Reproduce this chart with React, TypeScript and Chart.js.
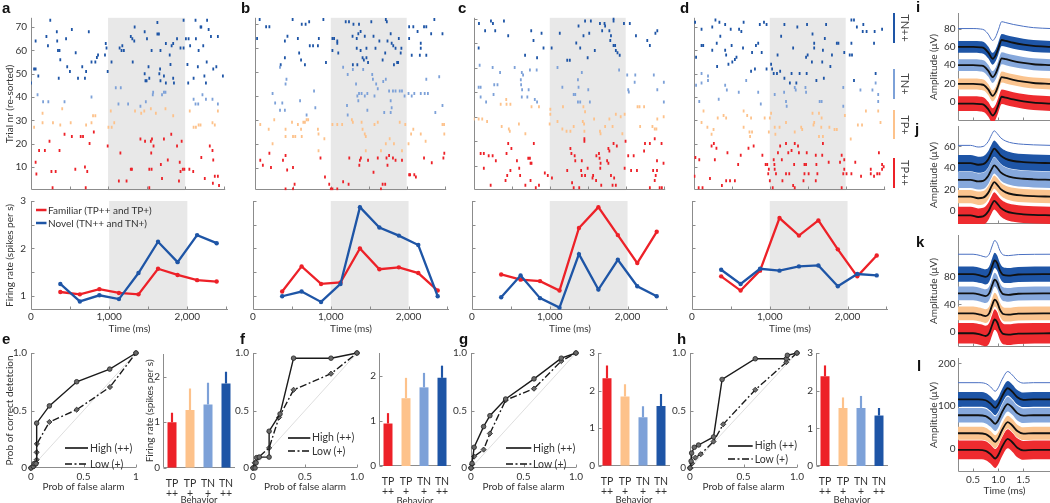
import React, { useEffect, useRef } from "react";
import { Chart, registerables } from "chart.js";

Chart.register(...registerables);

const FONT = "Lato, Roboto, 'Noto Sans', sans-serif";
const FS = 10;
const TEXT = "#333333";
const AXIS = "#8c8c8c";
const SHADE = "#e8e8e8";
const RED = "#ed2128";
const ORANGE = "#fdc28b";
const LBLUE = "#7da1d8";
const DBLUE = "#1e55a6";
const GROUP_COLORS = [RED, ORANGE, LBLUE, DBLUE];

// raster: [time ms, trial, group] group: 0 TP++, 1 TP+, 2 TN+, 3 TN++
const RASTER_A: number[][] = [
  [250,73,3],[0,46,3],[40,52,3],[60,52,3],[60,64,3],[95,49,3],[200,66,3],[220,62,3],[335,68,3],[340,64,3],[350,60,3],[370,60,3],[380,56,3],[360,48,3],[455,65,3],[470,53,3],[505,51,3],[530,69,3],[580,59,3],[610,48,3],[665,53,3],[700,48,3],[715,51,3],[750,68,3],[785,55,3],[835,55,3],[855,57,3],[870,58,3],[960,58,3],[970,63,3],[980,61,3],[995,51,3],[1045,55,3],[1150,61,3],[1175,60,3],[1205,60,3],[1185,62,3],[1295,66,3],[1315,65,3],[1340,64,3],[1345,70,3],[1320,55,3],[1475,68,3],[1475,50,3],[1485,47,3],[1500,47,3],[1505,65,3],[1525,53,3],[1535,48,3],[1565,60,3],[1640,72,3],[1640,67,3],[1660,67,3],[1665,50,3],[1675,52,3],[1680,47,3],[1680,60,3],[1725,49,3],[1750,63,3],[1750,46,3],[1800,58,3],[1810,54,3],[1825,62,3],[1845,48,3],[1845,63,3],[1855,46,3],[1895,65,3],[1940,61,3],[1980,61,3],[1980,73,3],[2010,65,3],[2045,65,3],[2030,54,3],[2040,46,3],[2065,62,3],[2110,48,3],[2135,73,3],[2140,65,3],[2165,53,3],[2175,60,3],[2200,70,3],[2210,70,3],[2235,62,3],[2250,49,3],[2270,46,3],[2280,55,3],[2285,73,3],[2305,69,3],[2335,66,3],[2365,52,3],[2405,53,3],[2425,66,3],[2490,49,3],
  [85,41,2],[157,38,2],[225,38,2],[435,38,2],[785,40,2],[1100,44,2],[1135,37,2],[1165,44,2],[1260,37,2],[1420,36,2],[1490,38,2],[1580,41,2],[1585,42,2],[1700,41,2],[1725,42,2],[1745,42,2],[2110,39,2],[2135,37,2],[2170,37,2],[2225,41,2],[2270,39,2],[2355,39,2],[2425,37,2],
  [40,27,1],[150,33,1],[150,29,1],[285,29,1],[380,28,1],[405,35,1],[515,29,1],[715,28,1],[785,29,1],[805,32,1],[835,32,1],[1005,27,1],[1035,34,1],[1047,27,1],[1080,29,1],[1350,34,1],[1430,33,1],[1470,34,1],[1555,35,1],[1620,33,1],[1745,35,1],[1845,32,1],[2060,34,1],[2110,27,1],[2140,27,1],[2175,28,1],[2200,28,1],[2355,29,1],[2425,34,1],[2385,28,1],
  [60,12,0],[70,7,0],[105,17,0],[180,17,0],[240,21,0],[265,8,0],[320,8,0],[370,17,0],[435,24,0],[530,23,0],[575,9,0],[645,23,0],[675,23,0],[700,10,0],[730,8,0],[760,20,0],[815,25,0],[995,19,0],[1160,16,0],[1295,9,0],[1310,9,0],[1420,22,0],[1480,21,0],[1555,21,0],[1570,22,0],[1560,16,0],[1590,19,0],[1535,9,0],[1565,9,0],[1685,11,0],[1725,22,0],[1775,13,0],[1820,24,0],[1895,19,0],[1930,12,0],[1940,8,0],[1955,21,0],[1970,9,0],[1990,9,0],[2055,9,0],[2105,8,0],[2210,14,0],[2320,19,0],[2355,17,0],[2365,13,0],[2385,6,0],[2425,6,0],[280,1,0],[710,1,0],[1140,4,0],[1240,4,0],[1535,1,0],[1700,5,0],[1920,4,0],[2255,5,0],[2360,3,0],[2440,2,0],
];
const RASTER_B: number[][] = [
  [30,64,3],[64,72,3],[149,69,3],[192,69,3],[498,72,3],[618,70,3],[669,70,3],[716,71,3],[903,72,3],[430,65,3],[396,63,3],[724,61,3],[767,61,3],[831,61,3],[843,64,3],[567,64,3],[584,58,3],[609,55,3],[660,53,3],[396,56,3],[341,53,3],[937,54,3],[1022,64,3],[1044,64,3],[1086,63,3],[1086,62,3],[1022,59,3],[1099,58,3],[1197,71,3],[1240,71,3],[1299,70,3],[1372,70,3],[1363,66,3],[1393,67,3],[1287,65,3],[1342,64,3],[1448,65,3],[1534,71,3],[1563,65,3],[1640,63,3],[1725,72,3],[1738,71,3],[1747,63,3],[1789,66,3],[1802,62,3],[1823,61,3],[1853,60,3],[1896,64,3],[1930,60,3],[1921,58,3],[1342,60,3],[1393,59,3],[1470,60,3],[1589,60,3],[1717,58,3],[1419,56,3],[1436,55,3],[1470,56,3],[1491,54,3],[1683,55,3],[1874,54,3],[1887,54,3],[1832,53,3],[1350,53,3],[1291,53,3],[2032,64,3],[2032,69,3],[2087,69,3],[2143,67,3],[2185,62,3],[2185,60,3],[2173,57,3],[2066,57,3],[2258,57,3],[2228,69,3],[2258,69,3],[2322,66,3],[2364,72,3],[2471,66,3],
  [234,41,2],[332,52,2],[405,45,2],[417,47,2],[268,37,2],[332,34,2],[362,37,2],[396,34,2],[596,38,2],[780,42,2],[797,35,2],[682,32,2],[1163,52,2],[1223,49,2],[1291,51,2],[1333,45,2],[1427,51,2],[1214,36,2],[1223,32,2],[1350,40,2],[1363,38,2],[1372,41,2],[1406,41,2],[1448,40,2],[1482,41,2],[1546,49,2],[1555,47,2],[1598,45,2],[1619,43,2],[1691,46,2],[1725,47,2],[1768,42,2],[1819,42,2],[1853,42,2],[1908,42,2],[1938,42,2],[1789,38,2],[1802,35,2],[1789,33,2],[1704,33,2],[1482,34,2],[1576,40,2],[1972,40,2],[2024,41,2],[2066,40,2],[2100,41,2],[2185,41,2],[2237,41,2],[2279,41,2],[2258,47,2],[2428,48,2],[2377,33,2],[2471,36,2],
  [72,28,1],[183,26,1],[234,20,1],[256,30,1],[405,26,1],[405,23,1],[490,29,1],[503,23,1],[533,23,1],[567,28,1],[609,26,1],[618,23,1],[639,29,1],[660,29,1],[682,30,1],[703,30,1],[831,26,1],[839,24,1],[839,17,1],[916,22,1],[1022,28,1],[1086,28,1],[1150,28,1],[1278,30,1],[1291,29,1],[1406,29,1],[1419,26,1],[1448,24,1],[1461,23,1],[1461,17,1],[1576,28,1],[1619,29,1],[1661,17,1],[1725,20,1],[1776,22,1],[1832,20,1],[1908,29,1],[1938,17,1],[1981,28,1],[2024,20,1],[2058,24,1],[2087,26,1],[2185,24,1],[2249,21,1],[2471,28,1],[2492,28,1],[2495,24,1],
  [72,13,0],[106,11,0],[192,16,0],[213,10,0],[371,13,0],[405,15,0],[426,9,0],[503,10,0],[524,3,0],[405,1,0],[503,1,0],[865,14,0],[924,6,0],[980,3,0],[1001,1,0],[1022,1,0],[1086,1,0],[1163,4,0],[1235,3,0],[1244,14,0],[1384,13,0],[1397,14,0],[1491,13,0],[1376,11,0],[1563,8,0],[1619,14,0],[1683,3,0],[1661,1,0],[1717,3,0],[1747,11,0],[1734,14,0],[1768,15,0],[1819,14,0],[1853,13,0],[1938,13,0],[2032,7,0],[2045,7,0],[2100,7,0],[2121,6,0],[2228,14,0],[2330,12,0],[2483,14,0],[2495,16,0],
];
const RASTER_C: number[][] = [
  [68,68,3],[149,65,3],[226,69,3],[252,68,3],[282,65,3],[397,69,3],[453,63,3],[64,58,3],[756,65,3],[786,61,3],[892,64,3],[918,58,3],[1025,58,3],[1132,64,3],[1379,67,3],[1465,69,3],[1444,63,3],[1541,69,3],[1520,64,3],[1349,60,3],[1401,58,3],[1661,68,3],[1690,65,3],[1721,68,3],[1729,67,3],[1785,65,3],[1806,63,3],[1797,61,3],[1840,59,3],[1861,59,3],[1840,70,3],[1840,69,3],[1977,68,3],[2054,68,3],[1870,57,3],[1892,56,3],[1921,55,3],[1593,57,3],[2135,63,3],[2284,61,3],[2318,59,3],[2391,64,3],[2416,65,3],[833,54,3],[675,55,3],[1499,54,3],[1230,53,3],[1264,53,3],
  [77,51,2],[64,42,2],[90,42,2],[90,38,2],[162,36,2],[248,50,2],[269,43,2],[312,43,2],[346,48,2],[260,39,2],[538,50,2],[632,48,2],[649,47,2],[619,45,2],[623,43,2],[636,41,2],[632,38,2],[722,41,2],[739,49,2],[828,49,2],[705,38,2],[803,37,2],[833,36,2],[1102,50,2],[1166,42,2],[1315,39,2],[1336,39,2],[1371,36,2],[1379,42,2],[1371,45,2],[1422,48,2],[1401,36,2],[1507,41,2],[1528,36,2],[1913,49,2],[2020,47,2],[2033,41,2],[2041,40,2],[2126,47,2],[2118,44,2],[2370,47,2],[2416,41,2],[2502,44,2],[2502,36,2],
  [0,29,1],[64,29,1],[111,29,1],[175,28,1],[367,26,1],[354,35,1],[431,35,1],[482,35,1],[427,37,1],[461,25,1],[474,24,1],[594,27,1],[679,23,1],[760,34,1],[858,34,1],[1008,33,1],[1008,31,1],[999,27,1],[1102,28,1],[1174,34,1],[1166,25,1],[1221,24,1],[1272,24,1],[1315,26,1],[1443,34,1],[1465,32,1],[1435,28,1],[1452,27,1],[1456,24,1],[1584,29,1],[1661,24,1],[1669,23,1],[1729,26,1],[1785,29,1],[1827,26,1],[1870,31,1],[1934,30,1],[1956,23,1],[1986,31,1],[2156,34,1],[2182,34,1],[2242,34,1],[2190,26,1],[2352,26,1],[2382,25,1],[2404,25,1],[2416,29,1],[2500,30,1],
  [90,15,0],[132,15,0],[132,9,0],[196,14,0],[248,14,0],[290,12,0],[222,2,0],[431,15,0],[453,19,0],[495,17,0],[482,8,0],[440,6,0],[418,4,0],[598,9,0],[610,6,0],[568,12,0],[679,2,0],[717,13,0],[739,13,0],[747,11,0],[760,11,0],[747,4,0],[790,19,0],[816,1,0],[858,2,0],[935,7,0],[974,6,0],[1029,5,0],[1230,8,0],[1272,17,0],[1285,15,0],[1315,1,0],[1328,14,0],[1336,12,0],[1294,3,0],[1388,1,0],[1413,8,0],[1422,12,0],[1456,20,0],[1456,21,0],[1422,6,0],[1465,6,0],[1499,9,0],[1571,6,0],[1563,5,0],[1614,14,0],[1610,4,0],[1648,15,0],[1656,13,0],[1669,11,0],[1665,9,0],[1678,2,0],[1755,12,0],[1772,17,0],[1785,16,0],[1772,11,0],[1806,6,0],[1827,2,0],[1840,19,0],[1883,18,0],[1870,2,0],[1848,5,0],[1986,9,0],[1998,20,0],[2033,14,0],[2071,8,0],[2105,14,0],[2148,8,0],[2242,16,0],[2254,19,0],[2318,19,0],[2382,21,0],[2412,12,0],[2361,8,0],[2412,8,0],[2395,6,0],[2382,4,0],[2318,1,0],[2447,1,0],[2476,1,0],[2472,19,0],[2498,11,0],
];
const RASTER_D: number[][] = [
  [17,72,3],[102,69,3],[243,70,3],[285,73,3],[337,72,3],[413,71,3],[486,69,3],[596,69,3],[626,68,3],[656,72,3],[869,71,3],[924,72,3],[958,71,3],[1193,71,3],[1363,70,3],[1491,71,3],[1742,71,3],[1563,67,3],[1725,65,3],[1883,63,3],[1904,63,3],[2075,73,3],[2109,73,3],[2147,70,3],[2232,71,3],[2224,68,3],[2275,68,3],[2381,68,3],[2479,69,3],[102,62,3],[124,62,3],[30,57,3],[243,60,3],[302,63,3],[349,66,3],[413,60,3],[426,58,3],[498,62,3],[456,54,3],[507,55,3],[541,56,3],[562,57,3],[648,61,3],[767,59,3],[818,62,3],[894,59,3],[848,63,3],[1150,66,3],[1103,58,3],[1308,61,3],[1478,57,3],[1499,58,3],[1555,55,3],[1585,63,3],[1585,61,3],[1691,55,3],[1700,60,3],[1798,53,3],[1819,58,3],[1981,59,3],[2053,58,3],[2083,58,3],[2075,63,3],[2373,63,3],[307,53,3],[1018,54,3],[1031,52,3],[754,51,3],[805,52,3],[958,52,3],[1052,50,3],[1095,50,3],[1137,51,3],[1287,50,3],[1393,50,3],[1486,50,3],[1193,48,3],[1265,46,3],[1350,46,3],[1614,47,3],[1712,48,3],[2109,47,3],[2394,50,3],
  [102,50,2],[102,46,2],[187,49,2],[187,47,2],[30,45,2],[72,38,2],[328,39,2],[413,45,2],[435,43,2],[592,42,2],[690,47,2],[848,42,2],[882,37,2],[1065,41,2],[1189,42,2],[1214,38,2],[1223,36,2],[1329,44,2],[1342,43,2],[1470,44,2],[1478,42,2],[1657,38,2],[1683,38,2],[1968,44,2],[1968,36,2],[2194,43,2],[2352,43,2],[2394,46,2],[2428,41,2],[2428,38,2],
  [128,34,1],[102,29,1],[179,27,1],[234,24,1],[260,26,1],[315,31,1],[392,32,1],[426,31,1],[656,34,1],[656,27,1],[703,32,1],[754,31,1],[733,25,1],[767,25,1],[741,23,1],[933,31,1],[1001,31,1],[1018,33,1],[988,25,1],[1065,27,1],[1074,24,1],[1129,27,1],[1214,29,1],[1329,25,1],[1414,27,1],[1427,26,1],[1563,33,1],[1585,29,1],[1576,28,1],[1648,33,1],[1683,31,1],[1678,27,1],[1648,23,1],[1700,23,1],[1785,27,1],[1853,26,1],[1883,26,1],[1989,32,1],[2266,34,1],[2160,28,1],[2215,28,1],[2066,22,1],[2428,34,1],[2458,29,1],
  [21,14,0],[72,13,0],[9,6,0],[64,1,0],[115,1,0],[213,5,0],[234,19,0],[264,20,0],[298,18,0],[277,13,0],[370,2,0],[426,4,0],[443,16,0],[477,4,0],[541,4,0],[584,11,0],[618,15,0],[720,18,0],[788,19,0],[903,15,0],[946,11,0],[980,7,0],[1001,4,0],[967,11,0],[988,9,0],[1039,1,0],[1052,13,0],[1061,11,0],[1065,9,0],[1082,7,0],[1108,16,0],[1137,19,0],[1159,13,0],[1167,4,0],[1214,20,0],[1214,7,0],[1257,7,0],[1244,16,0],[1287,17,0],[1321,11,0],[1329,20,0],[1372,19,0],[1384,16,0],[1308,2,0],[1329,1,0],[1444,4,0],[1457,11,0],[1478,11,0],[1457,7,0],[1487,16,0],[1512,7,0],[1606,15,0],[1606,4,0],[1614,11,0],[1627,7,0],[1691,15,0],[1700,20,0],[1776,12,0],[1925,12,0],[1947,15,0],[1981,13,0],[1981,9,0],[1968,7,0],[1947,1,0],[2011,7,0],[2075,7,0],[2126,12,0],[2202,6,0],[2330,7,0],[2330,9,0],[2373,6,0],[2415,7,0],[2437,16,0],[2445,7,0],[2479,9,0],[2500,10,0],[2479,11,0],
];
const RASTER_TICKS = [10, 20, 30, 40, 50, 60, 70];
const TIME_TICKS = [500, 1000, 1500, 2000, 2500];
const TIME_LABELS = [0, 1000, 2000];

const TIME_BINS = [375, 625, 875, 1125, 1375, 1625, 1875, 2125, 2375];
const RATE_A_FAM = [1.08, 1.03, 1.14, 1.06, 1.03, 1.57, 1.44, 1.33, 1.3];
const RATE_A_NOV = [1.25, 0.88, 1.01, 0.93, 1.48, 2.14, 1.71, 2.28, 2.11];
const RATE_B_FAM = [1.09, 1.62, 1.25, 1.28, 2.0, 1.56, 1.6, 1.48, 1.11];
const RATE_B_NOV = [0.99, 1.09, 0.87, 1.25, 2.87, 2.44, 2.27, 2.07, 0.99];
const RATE_C_FAM = [1.45, 1.34, 1.31, 1.11, 2.43, 2.87, 2.28, 1.69, 2.35];
const RATE_C_NOV = [0.97, 1.43, 0.95, 0.75, 1.88, 1.13, 1.76, 1.2, 0.99];
const RATE_D_FAM = [1.41, 1.11, 1.53, 2.64, 2.27, 2.59, 1.98, 1.41, 1.85];
const RATE_D_NOV = [1.55, 1.25, 1.57, 1.53, 1.62, 1.64, 1.2, 1.46, 1.43];
const RATE_TICKS = [1, 1.5, 2, 2.5, 3];

const ROC_E_HIGH = [[0,0],[0.022,0.014],[0.03,0.038],[0.048,0.038],[0.054,0.39],[0.175,0.54],[0.435,0.75],[0.75,0.86],[1,1]];
const ROC_E_LOW = [[0,0],[0.03,0.02],[0.05,0.045],[0.054,0.072],[0.054,0.136],[0.056,0.21],[0.175,0.4],[0.435,0.507],[0.752,0.704],[1,1]];
const ROC_F_HIGH = [[0,0],[0.02,0],[0.03,0.045],[0.035,0.09],[0.06,0.095],[0.155,0.095],[0.155,0.32],[0.26,0.47],[0.39,0.955],[0.75,0.955],[1,1]];
const ROC_F_LOW = [[0,0],[0.016,0.045],[0.05,0.09],[0.155,0.175],[0.25,0.44],[0.39,0.68],[0.75,0.82],[1,1]];
const ROC_G_HIGH = [[0,0],[0.01,0.04],[0.03,0.18],[0.12,0.36],[0.18,0.455],[0.33,0.6],[0.6,0.775],[0.86,0.955],[1,1]];
const ROC_G_LOW = [[0,0],[0.01,0.03],[0.03,0.1],[0.12,0.16],[0.18,0.3],[0.33,0.59],[0.6,0.69],[0.86,0.93],[1,1]];
const ROC_H_HIGH = [[0,0],[0.01,0.06],[0.015,0.13],[0.04,0.18],[0.08,0.2],[0.22,0.27],[0.3,0.77],[0.61,0.95],[0.9,0.95],[0.91,0.98],[1,1]];
const ROC_H_LOW = [[0,0],[0.02,0.04],[0.05,0.09],[0.1,0.12],[0.22,0.23],[0.31,0.38],[0.61,0.68],[0.9,0.92],[1,1]];
const ROC_TICKS = [0, 0.5, 1];

const BAR_LABELS = [["TP", "++"], ["TP", "+"], ["TN", "+"], ["TN", "++"]];
const BAR_COLORS = [RED, ORANGE, LBLUE, DBLUE];
const BAR_E = [1.0, 1.27, 1.39, 1.85];
const ERR_E = [1.21, 1.74, 1.87, 2.11];
const BAR_F = [0.94, 1.5, 1.74, 1.95];
const ERR_F = [1.17, 1.95, 2.06, 2.22];
const BAR_G = [2.33, 1.84, 1.29, 1.59];
const ERR_G = [2.67, 2.17, 1.58, 1.91];
const BAR_H = [2.38, 1.54, 1.54, 1.34];
const ERR_H = [2.67, 1.82, 1.86, 1.54];

// waveforms: sample times (ms), mean shape (µV, relative), levels [top trace, TN++, TN+, TP+, TP++], spread per group
const WAVE_I_T = [0.2, 0.5, 0.65, 0.72, 0.8, 0.89, 0.95, 1.0, 1.07, 1.15, 1.3, 1.5, 1.7, 2.05];
const WAVE_I_SHAPE = [0, 0, -0.5, -1.5, -6, -13, -9, -2, 7.5, 6.5, 4.5, 2.5, 1, 0];
const WAVE_I_LEVELS = [80, 60, 40, 19.5, -2];
const WAVE_I_SPREAD = [6.5, 6.5, 6, 8];
const WAVE_J_T = [0.2, 0.45, 0.6, 0.7, 0.8, 0.87, 0.92, 0.98, 1.05, 1.15, 1.3, 1.5, 1.7, 2.05];
const WAVE_J_SHAPE = [0, 0, -1.5, -1, 3.5, 10, 13.5, 11, 7, 4, 2, 1, 0.5, 0];
const WAVE_J_LEVELS = [61, 44.5, 29, 13.4, -4];
const WAVE_J_SPREAD = [7.5, 7.5, 6.2, 8];
const WAVE_K_T = [0.2, 0.5, 0.65, 0.75, 0.82, 0.88, 0.93, 0.98, 1.03, 1.1, 1.2, 1.4, 2.05];
const WAVE_K_SHAPE = [0, 0, -2, -4, 0, 12, 20, 16, 6, -1, -2, -0.5, 0];
const WAVE_K_LEVELS = [113, 84, 56, 27, -2];
const WAVE_K_SPREAD = [11, 10, 10, 15];
const WAVE_L_T = [0.2, 0.6, 0.75, 0.85, 0.94, 1.0, 1.08, 1.19, 1.28, 1.38, 1.5, 1.7, 2.05];
const WAVE_L_SHAPE = [0, 0, -2, -10, -20, -12, 8, 26, 18, 5, -1, 0, 0];
const WAVE_L_LEVELS = [155, 116, 79, 37, -2];
const WAVE_L_SPREAD = [17, 17, 15, 22];
const WAVE_BAND_COLORS = [DBLUE, "#86a8dc", "#fbc48f", "#ee2b2f"];
const WAVE_X_TICKS = [0.5, 1, 1.5];

const shadePlugin = {
  id: "shade",
  beforeDatasetsDraw(chart: any, _a: any, opts: any) {
    if (!opts || opts.from == null) return;
    const { ctx, chartArea: a, scales } = chart;
    const x0 = scales.x.getPixelForValue(opts.from);
    const x1 = scales.x.getPixelForValue(opts.to);
    ctx.save();
    ctx.fillStyle = SHADE;
    ctx.fillRect(x0, a.top, x1 - x0, a.bottom - a.top);
    ctx.restore();
  },
};
const axesPlugin = {
  id: "mAxes",
  beforeDatasetsDraw(chart: any, _a: any, opts: any) {
    if (!opts || !opts.on) return;
    const { ctx, chartArea: a, scales } = chart;
    const len = 3;
    ctx.save();
    ctx.strokeStyle = AXIS;
    ctx.lineWidth = 1;
    ctx.beginPath();
    const L = Math.round(a.left) + 0.5;
    const Bt = Math.round(a.bottom) - 0.5;
    ctx.moveTo(L, a.top);
    ctx.lineTo(L, Bt);
    ctx.lineTo(a.right, Bt);
    const xt = opts.xt || [];
    for (let i = 0; i < xt.length; i++) {
      const px = Math.round(scales.x.getPixelForValue(xt[i])) + 0.5;
      ctx.moveTo(px, Bt);
      ctx.lineTo(px, Bt - len);
    }
    const yt = opts.yt || [];
    for (let i = 0; i < yt.length; i++) {
      const py = Math.round(scales.y.getPixelForValue(yt[i])) + 0.5;
      ctx.moveTo(L, py);
      ctx.lineTo(L + len, py);
    }
    ctx.stroke();
    ctx.restore();
  },
};
Chart.register(shadePlugin as any, axesPlugin as any);

type Box = { x: number; y: number; w: number; h: number; L: number; B: number; T: number; R: number };

const fixY = (b: Box) => (s: any) => {
  s.width = b.L;
  s.paddingTop = 0; s.paddingBottom = 0; s.paddingLeft = 0; s.paddingRight = 0;
};
const fixX = (b: Box) => (s: any) => {
  s.height = b.B;
  s.paddingTop = 0; s.paddingBottom = 0; s.paddingLeft = 0; s.paddingRight = 0;
};

function linScale(pos: string, b: Box, min: number, max: number, tickVals: number[], fmt: any, title: string | null, tickPad: number, titlePad: number) {
  return {
    type: "linear",
    position: pos === "x" ? "bottom" : "left",
    min, max,
    grid: { display: false, drawTicks: false },
    border: { display: false },
    afterBuildTicks: (s: any) => { s.ticks = tickVals.map((v) => ({ value: v })); },
    ticks: {
      display: !!fmt, padding: tickPad, autoSkip: false, maxRotation: 0, minRotation: 0,
      color: TEXT, font: { size: FS, family: FONT },
      callback: (v: any) => (fmt ? fmt(Number(v)) : ""),
    },
    title: { display: !!title, text: title || "", padding: titlePad, color: TEXT, font: { size: FS, family: FONT } },
    afterFit: pos === "x" ? fixX(b) : fixY(b),
  };
}

function baseOptions(b: Box, scales: any, plugins: any) {
  return {
    animation: false, responsive: false, maintainAspectRatio: false, devicePixelRatio: 1, events: [],
    layout: { padding: { left: 0, top: b.T, right: b.R, bottom: 0 } },
    plugins: { legend: { display: false }, tooltip: { enabled: false }, ...plugins },
    scales,
  };
}

const commaFmt = (v: number) => (TIME_LABELS.indexOf(v) >= 0 ? v.toLocaleString("en-US") : "");

function rasterConfig(b: Box, data: number[][], yMin: number, yMax: number, labeled: boolean) {
  const datasets = [0, 1, 2, 3].map((g) => ({
    data: data.filter((r) => r[2] === g).map((r) => ({ x: r[0], y: r[1] })),
    showLine: false,
    pointStyle: "line", pointRotation: 90, pointRadius: 1.5, pointBorderWidth: 1.8,
    pointBorderColor: GROUP_COLORS[g], pointBackgroundColor: GROUP_COLORS[g], borderColor: GROUP_COLORS[g],
  }));
  return {
    type: "scatter",
    data: { datasets },
    options: baseOptions(b, {
      x: linScale("x", b, 0, 2520, TIME_TICKS, null, null, 0, 0),
      y: linScale("y", b, yMin, yMax, RASTER_TICKS, labeled ? (v: number) => String(v) : null, labeled ? "Trial nr (re-sorted)" : null, 4, 3.5),
    }, { shade: { from: 1000, to: 2000 }, mAxes: { on: true, xt: TIME_TICKS, yt: RASTER_TICKS } }),
  };
}

function rateConfig(b: Box, fam: number[], nov: number[], labeled: boolean) {
  const ds = (vals: number[], color: string) => ({
    data: TIME_BINS.map((t, i) => ({ x: t, y: vals[i] })),
    showLine: true, borderColor: color, borderWidth: 2.3, pointRadius: 2.2, pointBorderWidth: 0,
    pointBackgroundColor: color, clip: false,
  });
  return {
    type: "scatter",
    data: { datasets: [ds(nov, DBLUE), ds(fam, RED)] },
    options: baseOptions(b, {
      x: linScale("x", b, 0, 2520, [0, ...TIME_TICKS], commaFmt, "Time (ms)", 1, 1.5),
      y: linScale("y", b, 0.7, 3, RATE_TICKS, labeled ? (v: number) => (Number.isInteger(v) ? String(v) : "") : null, labeled ? "Firing rate (spikes per s)" : null, 5, 3.5),
    }, { shade: { from: 1000, to: 2000 }, mAxes: { on: true, xt: TIME_TICKS, yt: RATE_TICKS } }),
  };
}

function rocConfig(b: Box, high: number[][], low: number[][], first: boolean) {
  const pts = (arr: number[][]) => arr.map((p) => ({ x: p[0], y: p[1] }));
  return {
    type: "scatter",
    data: {
      datasets: [
        { data: pts(high), showLine: true, borderColor: "#1a1a1a", borderWidth: 1.4, pointRadius: 2.3, pointBackgroundColor: "#6a6a6a", pointBorderColor: "#222", pointBorderWidth: 0.8, clip: false },
        { data: pts(low), showLine: true, borderColor: "#1a1a1a", borderWidth: 1.4, borderDash: [7, 2.5, 1.8, 2.5], pointStyle: "rectRot", pointRadius: 2.6, pointBackgroundColor: "#6a6a6a", pointBorderColor: "#222", pointBorderWidth: 0.8, clip: false },
        { data: [{ x: 0, y: 0 }, { x: 1, y: 1 }], showLine: true, borderColor: "#d6d6d6", borderWidth: 0.8, pointRadius: 0 },
      ],
    },
    options: baseOptions(b, {
      x: linScale("x", b, 0, 1, ROC_TICKS, (v: number) => (v === 0 ? "0" : v === 0.5 ? "0.5" : first ? "1" : "1.0"), "Prob of false alarm", 3, 1),
      y: linScale("y", b, 0, 1, ROC_TICKS, (v: number) => (v === 0 ? "0" : v === 0.5 ? "0.5" : "1.0"), first ? "Prob of correct detetcion" : null, 4, 4),
    }, { mAxes: { on: true, xt: ROC_TICKS, yt: ROC_TICKS } }),
  };
}

function barConfig(b: Box, vals: number[], errs: number[], yMax: number, first: boolean) {
  const yt = yMax > 2.6 ? [0, 1, 2, 3] : [0, 1, 2];
  const y = linScale("y", b, 0, yMax, yt, (v: number) => String(v), first ? "Firing rate (spikes per s)" : null, 3, 1);
  return {
    type: "bar",
    data: {
      labels: BAR_LABELS,
      datasets: [
        { data: vals, backgroundColor: BAR_COLORS, borderWidth: 0, barPercentage: 0.5, categoryPercentage: 1, grouped: false, order: 2 },
        { data: vals.map((v, i) => [v, errs[i]]), backgroundColor: BAR_COLORS, borderWidth: 0, barPercentage: 0.12, categoryPercentage: 1, grouped: false, order: 1 },
      ],
    },
    options: baseOptions(b, {
      x: {
        type: "category", position: "bottom", offset: true,
        grid: { display: false, drawTicks: false }, border: { display: false },
        ticks: { padding: 10.3, color: TEXT, font: { size: 10.5, family: FONT, lineHeight: 1 }, maxRotation: 0, autoSkip: false },
        title: { display: true, text: "Behavior", padding: 0, color: TEXT, font: { size: 9.5, family: FONT } },
        afterFit: fixX(b),
      },
      y,
    }, { mAxes: { on: true, xt: [], yt } }),
  };
}

function waveConfig(b: Box, times: number[], shape: number[], levels: number[], spread: number[], yMin: number, yMax: number, yt: number[], last: boolean) {
  const datasets: any[] = [];
  const common = { showLine: true, pointRadius: 0, cubicInterpolationMode: "monotone" };
  for (let g = 0; g < 4; g++) {
    const base = levels[g + 1];
    datasets.push({ ...common, data: times.map((t, i) => ({ x: t, y: base + shape[i] - spread[g] })), borderWidth: 0, fill: false, order: 5 });
    datasets.push({ ...common, data: times.map((t, i) => ({ x: t, y: base + shape[i] + spread[g] })), borderWidth: 0, fill: "-1", backgroundColor: WAVE_BAND_COLORS[g], order: 5 });
  }
  for (let g = 0; g < 4; g++) {
    const base = levels[g + 1];
    datasets.push({ ...common, data: times.map((t, i) => ({ x: t, y: base + shape[i] })), borderColor: "#111111", borderWidth: 1.8, fill: false, order: 1 });
  }
  datasets.push({ ...common, data: times.map((t, i) => ({ x: t, y: levels[0] + shape[i] })), borderColor: "#4a70c2", borderWidth: 1, fill: false, order: 1 });
  return {
    type: "scatter",
    data: { datasets },
    options: baseOptions(b, {
      x: linScale("x", b, 0.2, 2.05, WAVE_X_TICKS, last ? (v: number) => v.toFixed(1) : null, last ? "Time (ms)" : null, 1.7, 0),
      y: linScale("y", b, yMin, yMax, yt, (v: number) => String(v), "Amplitude (\u03bcV)", 2.5, 2),
    }, { mAxes: { on: true, xt: WAVE_X_TICKS, yt } }),
  };
}

function ChartBox({ box, make }: { box: Box; make: () => any }) {
  const ref = useRef<HTMLCanvasElement>(null);
  useEffect(() => {
    const chart = new Chart(ref.current as HTMLCanvasElement, make());
    return () => chart.destroy();
  }, []);
  const W = Math.round(box.w + box.L + box.R);
  const H = Math.round(box.h + box.T + box.B);
  return (
    <canvas
      ref={ref}
      width={W}
      height={H}
      style={{ position: "absolute", left: box.x - box.L, top: box.y - box.T, width: W, height: H, display: "block" }}
    />
  );
}

const PANEL_X = [31, 252, 471, 691];

function Txt({ x, y, size = 10.5, children }: any) {
  return (
    <div style={{ position: "absolute", left: x, top: y - size / 2, fontSize: size, lineHeight: `${size}px`, fontFamily: FONT, color: TEXT, whiteSpace: "nowrap" }}>
      {children}
    </div>
  );
}

function LegendLine({ x, y, w, color, width, dash }: any) {
  return (
    <svg style={{ position: "absolute", left: x, top: y - 3, overflow: "visible" }} width={w} height={6}>
      <line x1={0} y1={3} x2={w} y2={3} stroke={color} strokeWidth={width} strokeDasharray={dash} />
    </svg>
  );
}

function VLabel({ x, y, children }: any) {
  return (
    <div style={{ position: "absolute", left: x, top: y, transform: "translate(-50%, -50%) rotate(90deg)", fontSize: 11, fontFamily: FONT, color: "#444", whiteSpace: "nowrap", lineHeight: "11px" }}>
      {children}
    </div>
  );
}

export default function App() {
  const rasters = [
    { d: RASTER_A, min: 0, max: 74 },
    { d: RASTER_B, min: 0.5, max: 72.7 },
    { d: RASTER_C, min: 0, max: 70.3 },
    { d: RASTER_D, min: 0, max: 73.9 },
  ];
  const rates = [
    [RATE_A_FAM, RATE_A_NOV],
    [RATE_B_FAM, RATE_B_NOV],
    [RATE_C_FAM, RATE_C_NOV],
    [RATE_D_FAM, RATE_D_NOV],
  ];
  const rocs = [
    { x: 31, w: 105, hi: ROC_E_HIGH, lo: ROC_E_LOW },
    { x: 253.3, w: 103.5, hi: ROC_F_HIGH, lo: ROC_F_LOW },
    { x: 470.7, w: 105, hi: ROC_G_HIGH, lo: ROC_G_LOW },
    { x: 690, w: 106.5, hi: ROC_H_HIGH, lo: ROC_H_LOW },
  ];
  const bars = [
    { x: 163, y: 354, h: 113.7, v: BAR_E, e: ERR_E, max: 2.5 },
    { x: 379, y: 352.5, h: 112.5, v: BAR_F, e: ERR_F, max: 2.5 },
    { x: 597.5, y: 353.3, h: 112.4, v: BAR_G, e: ERR_G, max: 3 },
    { x: 816, y: 353.3, h: 112.7, v: BAR_H, e: ERR_H, max: 3 },
  ];
  const waves = [
    { y: 13, h: 108, t: WAVE_I_T, s: WAVE_I_SHAPE, lv: WAVE_I_LEVELS, sp: WAVE_I_SPREAD, min: -21, max: 97, yt: [0, 20, 40, 60, 80] },
    { y: 126, h: 98, t: WAVE_J_T, s: WAVE_J_SHAPE, lv: WAVE_J_LEVELS, sp: WAVE_J_SPREAD, min: -12, max: 79, yt: [0, 20, 40, 60] },
    { y: 235, h: 112, t: WAVE_K_T, s: WAVE_K_SHAPE, lv: WAVE_K_LEVELS, sp: WAVE_K_SPREAD, min: -22, max: 141, yt: [0, 40, 80] },
    { y: 358, h: 114, t: WAVE_L_T, s: WAVE_L_SHAPE, lv: WAVE_L_LEVELS, sp: WAVE_L_SPREAD, min: -53.5, max: 212.6, yt: [0, 100, 200] },
  ];
  const letters: any[] = [
    ["a", 2, 0], ["b", 241, 0], ["c", 458, 0], ["d", 680, 0],
    ["e", 2, 331], ["f", 240, 331], ["g", 459, 331], ["h", 677, 331],
    ["i", 916, -1], ["j", 915, 121], ["k", 916, 234], ["l", 917, 358],
  ];
  const rocLegend = [
    { x: 65, hy: 448.3, ly: 464, w: 23 },
    { x: 287.7, hy: 437.7, ly: 451, w: 22.3 },
    { x: 505.7, hy: 448.3, ly: 464, w: 25.3 },
    { x: 728, hy: 445.7, ly: 459, w: 24.7 },
  ];
  return (
    <div style={{ position: "absolute", left: 0, top: 0, width: 1050, height: 503, overflow: "hidden", background: "#fff" }}>
      {rasters.map((r, i) => {
        const box: Box = { x: PANEL_X[i], y: 15, w: 197.3, h: 178, L: i === 0 ? 31 : 3, B: 3, T: 3, R: 3 };
        return <ChartBox key={"r" + i} box={box} make={() => rasterConfig(box, r.d, r.min, r.max, i === 0)} />;
      })}
      {rates.map((r, i) => {
        const box: Box = { x: PANEL_X[i], y: 201, w: 197.3, h: 109, L: i === 0 ? 31 : 3, B: 26, T: 4, R: 10 };
        return <ChartBox key={"f" + i} box={box} make={() => rateConfig(box, r[0], r[1], i === 0)} />;
      })}
      {rocs.map((r, i) => {
        const box: Box = { x: r.x, y: 353, w: r.w, h: 114.5, L: i === 0 ? 31 : 22, B: 26, T: 6, R: 8 };
        return <ChartBox key={"o" + i} box={box} make={() => rocConfig(box, r.hi, r.lo, i === 0)} />;
      })}
      {bars.map((r, i) => {
        const box: Box = { x: r.x, y: r.y, w: 71.5, h: r.h, L: i === 0 ? 20 : 14, B: 503 + 3 - (r.y + r.h), T: 6, R: 4 };
        return <ChartBox key={"b" + i} box={box} make={() => barConfig(box, r.v, r.e, r.max, i === 0)} />;
      })}
      {waves.map((r, i) => {
        const box: Box = { x: 958, y: r.y, w: 92.5, h: r.h, L: 32, B: i === 3 ? 25 : 3, T: 5, R: 0 };
        return <ChartBox key={"w" + i} box={box} make={() => waveConfig(box, r.t, r.s, r.lv, r.sp, r.min, r.max, r.yt, i === 3)} />;
      })}

      {letters.map((l) => (
        <div key={l[0]} style={{ position: "absolute", left: l[1], top: l[2], fontSize: 15, lineHeight: "15px", fontWeight: 700, fontFamily: "'Liberation Sans', Arial, sans-serif", color: "#111" }}>
          {l[0]}
        </div>
      ))}

      <LegendLine x={36} y={209.5} w={10.5} color={RED} width={2.5} />
      <Txt x={48} y={209.5} size={10}>Familiar (TP++ and TP+)</Txt>
      <LegendLine x={36} y={223.3} w={10.5} color={DBLUE} width={2.5} />
      <Txt x={48} y={223.3} size={10}>Novel (TN++ and TN+)</Txt>

      {rocLegend.map((r, i) => (
        <React.Fragment key={"lg" + i}>
          <LegendLine x={r.x} y={r.hy} w={r.w} color="#111" width={1.6} />
          <Txt x={r.x + r.w + 2} y={r.hy}>High (++)</Txt>
          <LegendLine x={r.x} y={r.ly} w={r.w} color="#111" width={1.6} dash="7 2.5 2 2.5" />
          <Txt x={r.x + r.w + 2} y={r.ly}>Low (+)</Txt>
        </React.Fragment>
      ))}

      <div style={{ position: "absolute", left: 893, top: 13.3, width: 2, height: 30, background: DBLUE }} />
      <div style={{ position: "absolute", left: 893, top: 69, width: 2, height: 30, background: LBLUE }} />
      <div style={{ position: "absolute", left: 893, top: 110, width: 2, height: 29, background: ORANGE }} />
      <div style={{ position: "absolute", left: 893, top: 158, width: 2, height: 30, background: RED }} />
      <VLabel x={905} y={28}>TN++</VLabel>
      <VLabel x={905} y={84}>TN+</VLabel>
      <VLabel x={905} y={124.5}>TP+</VLabel>
      <VLabel x={905} y={173}>TP++</VLabel>
    </div>
  );
}
